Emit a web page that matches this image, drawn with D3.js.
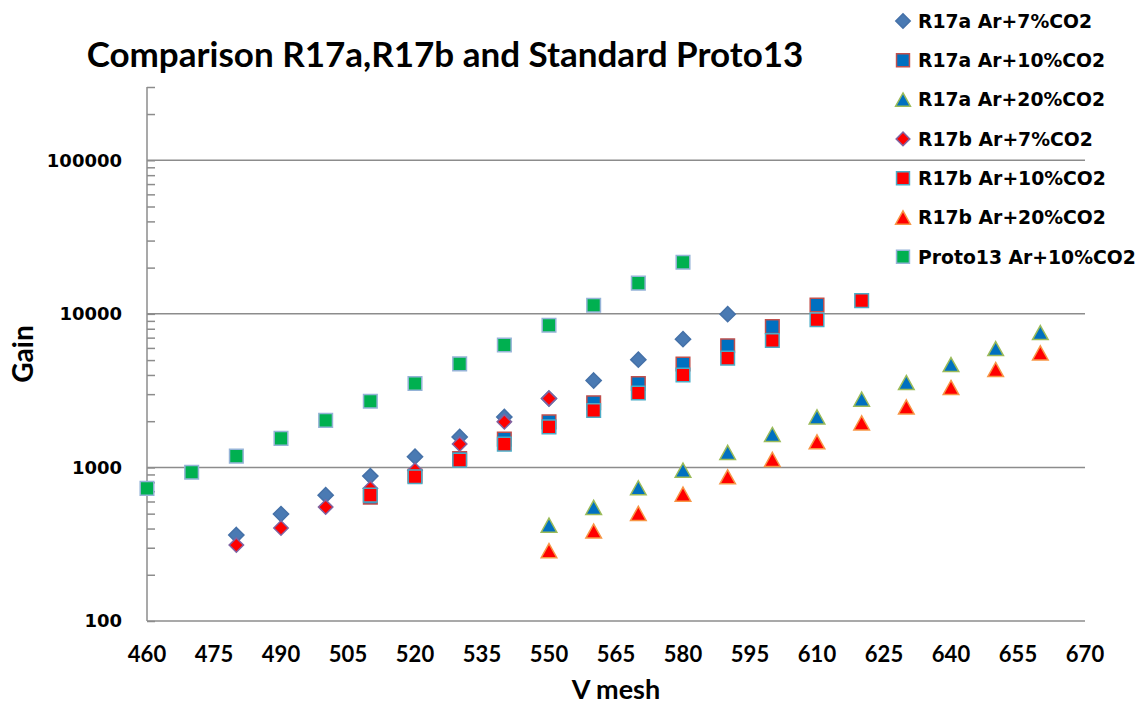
<!DOCTYPE html>
<html>
<head>
<meta charset="utf-8">
<script src="https://cdn.jsdelivr.net/npm/d3@7"></script>
<style>
  body { margin: 0; background: #fff; }
  svg { display: block; }
</style>
</head>
<body>
<div class="chart"></div>
<script>
// gain readings per series (V mesh in volts)
const vR17a7 = [480, 490, 500, 510, 520, 530, 540, 550, 560, 570, 580, 590];
const gR17a7 = [363, 497, 660, 878, 1175, 1580, 2130, 2810, 3680, 5030, 6840, 9950];

const vR17a10 = [510, 520, 530, 540, 550, 560, 570, 580, 590, 600, 610];
const gR17a10 = [640, 880, 1144, 1528, 1980, 2640, 3520, 4710, 6200, 8260, 11420];

const vR17a20 = [550, 560, 570, 580, 590, 600, 610, 620, 630, 640, 650, 660];
const gR17a20 = [421, 549, 737, 960, 1252, 1639, 2134, 2782, 3573, 4677, 5945, 7555];

const vR17b7 = [480, 490, 500, 510, 520, 530, 540, 550];
const gR17b7 = [312, 403, 552, 730, 960, 1419, 1980, 2812];

const vR17b10 = [510, 520, 530, 540, 550, 560, 570, 580, 590, 600, 610, 620];
const gR17b10 = [660, 869, 1116, 1419, 1837, 2350, 3050, 4000, 5150, 6700, 9160, 12200];

const vR17b20 = [550, 560, 570, 580, 590, 600, 610, 620, 630, 640, 650, 660];
const gR17b20 = [287, 385, 502, 670, 869, 1128, 1468, 1950, 2479, 3315, 4341, 5567];

const vProto = [460, 470, 480, 490, 500, 510, 520, 530, 540, 550, 560, 570, 580];
const gProto = [730, 930, 1185, 1545, 2025, 2700, 3520, 4720, 6270, 8430, 11380, 15850, 21700];

const seriesNames = ["R17a Ar+7%CO2", "R17a Ar+10%CO2", "R17a Ar+20%CO2",
    "R17b Ar+7%CO2", "R17b Ar+10%CO2", "R17b Ar+20%CO2", "Proto13 Ar+10%CO2"];

const xTicks = d3.range(460, 671, 15);
const yLabels = [100, 1000, 10000, 100000];

const width = 1140,
    height = 707;

const margin = { top: 87, right: 55, bottom: 86, left: 147 };

// custom marker shapes, size = half width
const diamond = {
    draw(ctx, r) {
        ctx.moveTo(0, -r); ctx.lineTo(r, 0); ctx.lineTo(0, r); ctx.lineTo(-r, 0); ctx.closePath();
    }
};
const square = {
    draw(ctx, r) { ctx.rect(-r, -r, 2 * r, 2 * r); }
};
const triangle = {
    draw(ctx, r) {
        ctx.moveTo(0, -r * 0.9); ctx.lineTo(r, r * 0.9); ctx.lineTo(-r, r * 0.9); ctx.closePath();
    }
};

const styles = [
    { shape: diamond, size: 7.6, fill: "#4a7ab3", stroke: "#4571a8" },
    { shape: square, size: 6.8, fill: "#0070c0", stroke: "#c0504d" },
    { shape: triangle, size: 7.8, fill: "#0070c0", stroke: "#9bbb59" },
    { shape: diamond, size: 7.2, fill: "#ff0000", stroke: "#8064a2" },
    { shape: square, size: 6.8, fill: "#ff0000", stroke: "#4bacc6" },
    { shape: triangle, size: 7.8, fill: "#ff0000", stroke: "#f79646" },
    { shape: square, size: 6.8, fill: "#00b050", stroke: "#95b3d7" }
];

const series = [
    [vR17a7, gR17a7], [vR17a10, gR17a10], [vR17a20, gR17a20],
    [vR17b7, gR17b7], [vR17b10, gR17b10], [vR17b20, gR17b20], [vProto, gProto]
].map(([v, g], i) => ({
    name: seriesNames[i],
    style: styles[i],
    points: v.map((d, j) => ({ v: d, g: g[j] }))
}));

const svg = d3.select(".chart")
    .append("svg")
    .attr("width", width)
    .attr("height", height);

const x = d3.scaleLinear()
    .domain([460, 670])
    .range([margin.left, width - margin.right]);

const y = d3.scaleLog()
    .domain([100, 300000])
    .range([height - margin.bottom, margin.top]);

// gridlines
svg.append("g")
    .selectAll("line")
    .data(yLabels.slice(1))
    .join("line")
    .attr("x1", x(460)).attr("x2", x(670))
    .attr("y1", d => y(d)).attr("y2", d => y(d))
    .attr("stroke", "#8c8c8c")
    .attr("stroke-width", 1.5);

// y axis with minor ticks pointing inward
const yAxis = g => g
    .attr("transform", `translate(${x(460)},0)`)
    .call(d3.axisRight(y).tickValues(d3.range(2, 7).flatMap(e =>
        d3.range(1, 10).map(m => m * Math.pow(10, e))).filter(d => d <= 300000))
        .tickSize(8).tickFormat(""))
    .call(g => g.selectAll("line, path").attr("stroke", "#8c8c8c").attr("stroke-width", 1.5))
    .call(g => g.select(".domain").attr("d", `M0,${y(300000)}V${y(100)}`));

svg.append("g").call(yAxis);

// x axis line
svg.append("line")
    .attr("x1", x(460)).attr("x2", x(670))
    .attr("y1", y(100)).attr("y2", y(100))
    .attr("stroke", "#8c8c8c")
    .attr("stroke-width", 1.5);

// y labels
svg.append("g")
    .selectAll("text")
    .data(yLabels)
    .join("text")
    .attr("x", 122)
    .attr("y", d => y(d))
    .attr("dy", "0.36em")
    .attr("text-anchor", "end")
    .style("font", "bold 18px 'DejaVu Sans'")
    .text(d => d);

// x labels
svg.append("g")
    .selectAll("text")
    .data(xTicks)
    .join("text")
    .attr("x", d => x(d))
    .attr("y", 662)
    .attr("text-anchor", "middle")
    .style("font", "bold 22px Lato")
    .text(d => d);

// markers
const sym = d3.symbol();
series.forEach(s => {
    svg.append("g")
        .selectAll("path")
        .data(s.points)
        .join("path")
        .attr("transform", d => `translate(${x(d.v)},${y(d.g)})`)
        .attr("d", sym.type(s.style.shape).size(s.style.size)())
        .attr("fill", s.style.fill)
        .attr("stroke", s.style.stroke)
        .attr("stroke-width", 1.5);
});

// titles
svg.append("text")
    .attr("x", 445)
    .attr("y", 67)
    .attr("text-anchor", "middle")
    .style("font", "bold 35px Lato")
    .text("Comparison R17a,R17b and Standard Proto13");

svg.append("text")
    .attr("x", (x(460) + x(670)) / 2)
    .attr("y", 699)
    .attr("text-anchor", "middle")
    .style("font", "bold 27px Lato")
    .text("V mesh");

svg.append("text")
    .attr("transform", `translate(33,${(y(100) + y(300000)) / 2}) rotate(-90)`)
    .attr("text-anchor", "middle")
    .style("font", "bold 28px Lato")
    .text("Gain");

// legend
const legend = svg.append("g")
    .selectAll("g")
    .data(series)
    .join("g")
    .attr("transform", (d, i) => `translate(903,${21 + i * 39.3})`);

legend.append("path")
    .attr("d", d => sym.type(d.style.shape).size(d.style.size * 0.95)())
    .attr("fill", d => d.style.fill)
    .attr("stroke", d => d.style.stroke)
    .attr("stroke-width", 1.5);

legend.append("text")
    .attr("x", 15)
    .attr("dy", "0.36em")
    .style("font", "bold 18.8px 'DejaVu Sans'")
    .text(d => d.name);
</script>
</body>
</html>
